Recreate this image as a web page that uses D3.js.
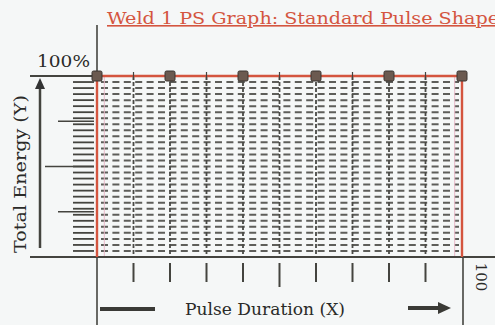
<!DOCTYPE html>
<html><head><meta charset="utf-8">
<script src="https://cdn.jsdelivr.net/npm/d3@7"></script>
<style>body{margin:0;background:#f5f7f7;}svg{display:block;}</style>
</head><body>
<script>
const title = "Weld 1 PS Graph: Standard Pulse Shape";
const xLabel = "Pulse Duration (X)";
const yLabel = "Total Energy (Y)";
const markerX = [0, 20, 40, 60, 80, 100];
const markerY = [100, 100, 100, 100, 100, 100];
const pulseX = [0, 0, 100, 100];
const pulseY = [0, 100, 100, 0];
const xTicks = [10, 20, 30, 40, 50, 60, 70, 80, 90];
const xTickLabel = "100";
const yTickLabel = "100%";
const yMajorTicks = [25, 50, 75];

const W = 495, H = 325;
const svg = d3.select("body").append("svg").attr("width", W).attr("height", H);
svg.append("rect").attr("width", W).attr("height", H).attr("fill", "#f5f7f7");
const x = d3.scaleLinear().domain([0, 100]).range([97, 462]);
const y = d3.scaleLinear().domain([0, 100]).range([257, 76]);
const red = "#d4553f", dark = "#44443f";

// dense dashed grid
const g = svg.append("g");
const nRows = 30;
const hRows = d3.range(1, nRows).map(i => i * 100 / nRows);
g.selectAll("line.h").data(hRows).join("line")
  .attr("x1", x(0) + 4).attr("x2", x(100) - 3)
  .attr("y1", d => y(d)).attr("y2", d => y(d))
  .attr("stroke", "#5e5e5a").attr("stroke-width", 2).attr("stroke-dasharray", "7,4.4");
const vCols = d3.range(1, 10).map(i => i * 10);
g.selectAll("line.v").data(vCols).join("line")
  .attr("x1", d => x(d)).attr("x2", d => x(d))
  .attr("y1", y(100)).attr("y2", y(0))
  .attr("stroke", "#4a4a46").attr("stroke-width", 1.8).attr("stroke-dasharray", "4,2");
g.selectAll("line.p").data([2, 98]).join("line")
  .attr("x1", d => x(d)).attr("x2", d => x(d)).attr("y1", y(100)).attr("y2", y(0))
  .attr("stroke", "#e8b8c8").attr("stroke-width", 1);

// axes lines
svg.append("line").attr("x1", 30).attr("x2", W).attr("y1", y(0)).attr("y2", y(0)).attr("stroke", dark).attr("stroke-width", 2);
svg.append("line").attr("x1", x(0)).attr("x2", x(0)).attr("y1", 25).attr("y2", H).attr("stroke", dark).attr("stroke-width", 1.6);
svg.append("line").attr("x1", 30).attr("x2", x(0)).attr("y1", y(100)).attr("y2", y(100)).attr("stroke", dark).attr("stroke-width", 2);
svg.append("line").attr("x1", x(100) + 1).attr("x2", x(100) + 1).attr("y1", y(0)).attr("y2", H).attr("stroke", dark).attr("stroke-width", 1.6);

// y minor ticks
const yMinor = d3.range(1, nRows).map(i => i * 100 / nRows);
svg.selectAll("line.ym").data(yMinor).join("line")
  .attr("x1", 73).attr("x2", 94).attr("y1", d => y(d)).attr("y2", d => y(d))
  .attr("stroke", dark).attr("stroke-width", 1.8);
svg.selectAll("line.yM").data(yMajorTicks).join("line")
  .attr("x1", d => d === 50 ? 45 : 58).attr("x2", 94).attr("y1", d => y(d)).attr("y2", d => y(d))
  .attr("stroke", dark).attr("stroke-width", 1.6);

// x ticks
svg.selectAll("line.xt").data(xTicks).join("line")
  .attr("x1", d => x(d)).attr("x2", d => x(d)).attr("y1", y(0) + 6).attr("y2", d => d === 50 ? y(0) + 30 : y(0) + 25)
  .attr("stroke", dark).attr("stroke-width", 2);

// y arrow
svg.append("line").attr("x1", 40).attr("x2", 40).attr("y1", 248).attr("y2", 86).attr("stroke", dark).attr("stroke-width", 2.5);
svg.append("path").attr("d", "M40,78 L35,89 L45,89 Z").attr("fill", "#333");

// x arrows
svg.append("line").attr("x1", 100).attr("x2", 155).attr("y1", 309).attr("y2", 309).attr("stroke", "#3a3a36").attr("stroke-width", 4);
svg.append("line").attr("x1", 408).attr("x2", 440).attr("y1", 308).attr("y2", 308).attr("stroke", "#3a3a36").attr("stroke-width", 4);
svg.append("path").attr("d", "M451,308 L438,302 L438,314 Z").attr("fill", "#3a3a36");

// pulse line
const pts = pulseX.map((d, i) => [x(d), y(pulseY[i])]);
svg.append("path").attr("d", d3.line()(pts)).attr("fill", "none").attr("stroke", red).attr("stroke-width", 2.4);
// small ticks on top line
svg.selectAll("line.st").data([10, 30, 50, 70, 90]).join("line")
  .attr("x1", d => x(d)).attr("x2", d => x(d)).attr("y1", y(100) - 4).attr("y2", y(100) + 4)
  .attr("stroke", dark).attr("stroke-width", 1.2);
// markers
svg.selectAll("rect.m").data(markerX).join("rect")
  .attr("x", d => x(d) - 5).attr("y", (d, i) => y(markerY[i]) - 5).attr("width", 10).attr("height", 10).attr("rx", 1.5)
  .attr("fill", "#6b5a50").attr("stroke", "#3a3430").attr("stroke-width", 1);

// texts
const serif = "'DejaVu Serif', 'Liberation Serif', serif";
svg.append("text").attr("x", 107).attr("y", 24).text(title)
  .attr("font-family", serif).attr("font-size", 16).attr("fill", red)
  .attr("textLength", 392).attr("lengthAdjust", "spacingAndGlyphs").attr("text-decoration", "underline");
svg.append("text").attr("x", 37).attr("y", 67).text(yTickLabel)
  .attr("font-family", serif).attr("font-size", 17).attr("fill", "#2a2a28")
  .attr("textLength", 53).attr("lengthAdjust", "spacingAndGlyphs");
svg.append("text").attr("transform", `translate(476,${277}) rotate(90)`).attr("text-anchor", "middle").text(xTickLabel)
  .attr("font-family", serif).attr("font-size", 15).attr("fill", "#2a2a28");
svg.append("text").attr("x", 265).attr("y", 315).attr("text-anchor", "middle").text(xLabel)
  .attr("font-family", serif).attr("font-size", 17).attr("fill", "#2a2a28")
  .attr("textLength", 160).attr("lengthAdjust", "spacingAndGlyphs");
svg.append("text").attr("transform", "translate(26,174) rotate(-90)").attr("text-anchor", "middle").text(yLabel)
  .attr("font-family", serif).attr("font-size", 17).attr("fill", "#2a2a28")
  .attr("textLength", 158).attr("lengthAdjust", "spacingAndGlyphs");
</script>
</body></html>
